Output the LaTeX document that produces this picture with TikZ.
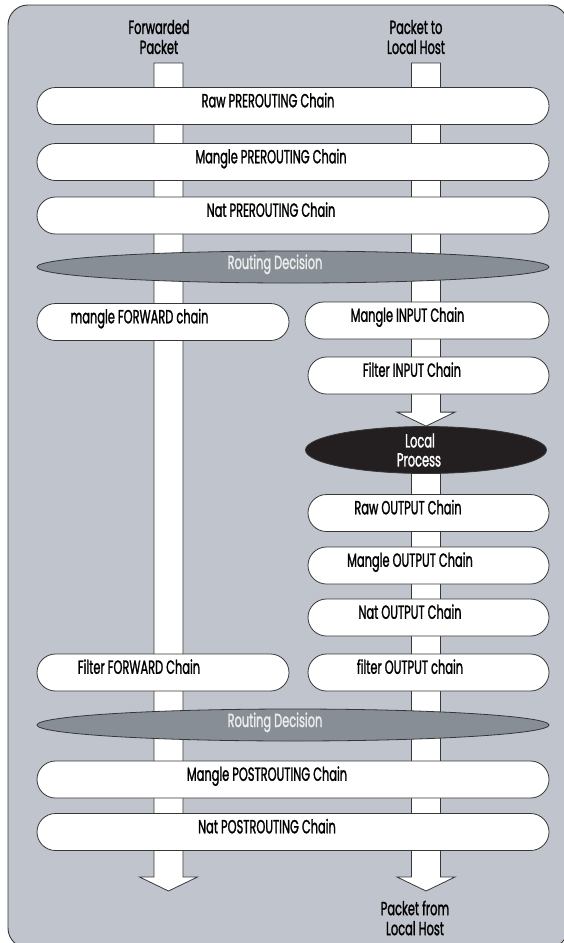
\documentclass[tikz,border=0pt]{standalone}
\usepackage{fontspec}
\setmainfont{Poppins}[FakeStretch=0.6, FakeBold=1.3]
\usetikzlibrary{shapes.misc,shapes.geometric,calc}
\pgfdeclarelayer{back}
\pgfdeclarelayer{bars}
\pgfsetlayers{back,bars,main}
\definecolor{bggray}{RGB}{192,196,204}
\definecolor{linec}{RGB}{55,55,55}
\definecolor{routefill}{RGB}{135,142,149}
\definecolor{routetext}{RGB}{236,236,236}
\definecolor{localfill}{RGB}{35,31,32}
\newcommand\lbl{\fontsize{19}{20}\selectfont}
\newcommand\tsh[2]{\hspace*{#1pt}#2}
\newcommand\blockarrow[2]{%
  \draw[barline] ($(#1)+(-14.5,0)$) -- ($(#2)+(-14.5,-14)$) -- ($(#2)+(-29,-14)$) -- (#2)
    -- ($(#2)+(29,-14)$) -- ($(#2)+(14.5,-14)$) -- ($(#1)+(14.5,0)$) -- cycle;}
\tikzset{
  barline/.style={draw=linec, fill=white, line width=0.8pt, line join=miter},
  box/.style={rounded rectangle, draw=linec, line width=0.8pt, fill=white,
    minimum height=37pt, inner sep=0pt, text height=10pt, text depth=7.4pt, font=\lbl},
  fullbox/.style={box, minimum width=512pt},
  leftbox/.style={box, minimum width=252pt},
  rightbox/.style={box, minimum width=241pt},
  route/.style={ellipse, draw=linec, line width=0.8pt, fill=routefill, minimum width=512pt,
    minimum height=32pt, inner sep=0pt, text=routetext, font=\lbl, text height=10pt, text depth=6pt},
  localp/.style={ellipse, draw=linec, line width=0.8pt, fill=localfill, minimum width=241pt,
    minimum height=46pt, inner sep=0pt, text=white, align=center, font=\fontsize{19}{19}\selectfont},
  title/.style={align=center, font=\lbl, inner sep=0pt},
}
\begin{document}
\begin{tikzpicture}[x=1pt, y=-1pt]
\useasboundingbox (0,0) rectangle (564,943);
\begin{pgfonlayer}{back}
  \draw[fill=bggray, draw=linec, line width=0.9pt, rounded corners=20pt] (8,5) rectangle (568,948);
\end{pgfonlayer}

% titles
\node[title] (fwdtitle) at (159,37) {Forwarded\\Packet};
\node[title] (loctitle) at (416,37) {Packet to\\Local Host};
\node[title] (outtitle) at (415,918) {Packet from\\Local Host};

% coordinates for the bars
\coordinate (ltop) at (168.5,63);
\coordinate (lend) at (168.5,891);
\coordinate (rtop) at (426,63);
\coordinate (rend) at (426,891);

% full width chains
\node[fullbox] (rawpre) at (293,106) {\tsh{-50}{Raw PREROUTING Chain}};
\node[fullbox] (manglepre) at (293,162) {\tsh{-44}{Mangle PREROUTING Chain}};
\node[fullbox] (natpre) at (293,215.5) {\tsh{-44}{Nat PREROUTING Chain}};
\node[route] (route1) at (293,267) {\tsh{-36}{Routing Decision}};

% split section
\node[leftbox] (mfwd) at (163,322) {\tsh{-47}{mangle FORWARD chain}};
\node[box, minimum width=244pt] (minput) at (427,320.5) {\tsh{-39}{Mangle INPUT Chain}};
\node[rightbox] (finput) at (428.5,375.5) {\tsh{-33}{Filter INPUT Chain}};
\node[localp] (local) at (426,450) {\tsh{-12}{Local}\\\tsh{-14}{Process}};
\node[rightbox] (rawout) at (428.5,513) {\tsh{-41}{Raw OUTPUT Chain}};
\node[rightbox] (mangleout) at (428.5,565.5) {\tsh{-37}{Mangle OUTPUT Chain}};
\node[rightbox] (natout) at (428.5,617.5) {\tsh{-37}{Nat OUTPUT Chain}};
\node[rightbox] (filterout) at (428.5,672.5) {\tsh{-37}{filter OUTPUT chain}};
\node[leftbox] (ffwd) at (163,672.5) {\tsh{-48}{Filter FORWARD Chain}};

% lower section
\node[route] (route2) at (293,725) {\tsh{-36}{Routing Decision}};
\node[fullbox] (manglepost) at (293,779.5) {\tsh{-52}{Mangle POSTROUTING Chain}};
\node[fullbox] (natpost) at (293,832) {\tsh{-52}{Nat POSTROUTING Chain}};

% bars / block arrows
\begin{pgfonlayer}{bars}
  \blockarrow{ltop}{lend}
  \blockarrow{rtop}{local.north}
  \blockarrow{local.center}{rend}
\end{pgfonlayer}
\end{tikzpicture}
\end{document}
